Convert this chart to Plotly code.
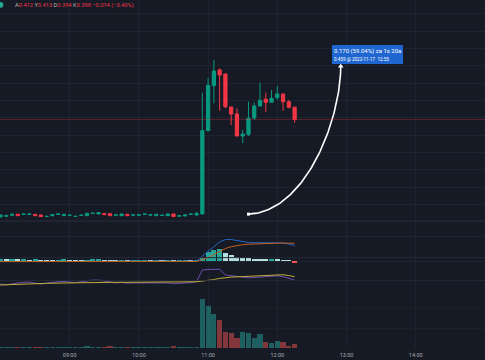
import numpy as np
import pandas as pd
import plotly.graph_objects as go
from plotly.subplots import make_subplots

# ---------------- data (5-minute bars, 2022-11-17) ----------------
bar_times = [t.strftime("%H:%M") for t in pd.date_range("2022-11-17 07:55", "2022-11-17 12:15", freq="5min")]

open_ = [0.2870, 0.2855, 0.2863, 0.2874, 0.2886, 0.2885, 0.2886, 0.2886, 0.2878, 0.2860,
         0.2870, 0.2887, 0.2870, 0.2874, 0.2861, 0.2873, 0.2870, 0.2897, 0.2890, 0.2894,
         0.2894, 0.2876, 0.2870, 0.2886, 0.2876, 0.2876, 0.2886, 0.2877, 0.2870, 0.2872,
         0.2870, 0.2890, 0.2864, 0.2867, 0.2886, 0.2878,
         0.2890, 0.3851, 0.4370, 0.4551, 0.4504, 0.4124, 0.4043, 0.3789, 0.3808, 0.3997,
         0.4135, 0.4213, 0.4178, 0.4231, 0.4274, 0.4185, 0.4120]
high = [0.2880, 0.2880, 0.2882, 0.2888, 0.2888, 0.2890, 0.2891, 0.2888, 0.2880, 0.2866,
        0.2884, 0.2891, 0.2888, 0.2878, 0.2865, 0.2878, 0.2899, 0.2901, 0.2907, 0.2896,
        0.2896, 0.2881, 0.2892, 0.2888, 0.2881, 0.2881, 0.2891, 0.2882, 0.2888, 0.2877,
        0.2892, 0.2892, 0.2872, 0.2890, 0.2891, 0.2913,
        0.4289, 0.4458, 0.4666, 0.4570, 0.4510, 0.4124, 0.4109, 0.3859, 0.4185, 0.4173,
        0.4404, 0.4289, 0.4320, 0.4366, 0.4274, 0.4205, 0.4130]
low = [0.2855, 0.2853, 0.2859, 0.2872, 0.2868, 0.2883, 0.2884, 0.2868, 0.2857, 0.2858,
       0.2868, 0.2885, 0.2868, 0.2872, 0.2859, 0.2871, 0.2868, 0.2895, 0.2888, 0.2880,
       0.2868, 0.2874, 0.2868, 0.2868, 0.2874, 0.2874, 0.2884, 0.2875, 0.2868, 0.2870,
       0.2868, 0.2857, 0.2862, 0.2865, 0.2884, 0.2876,
       0.2885, 0.3851, 0.4167, 0.4081, 0.4112, 0.3916, 0.3789, 0.3705, 0.3789, 0.3974,
       0.4135, 0.4066, 0.4178, 0.4205, 0.4081, 0.4109, 0.3940]
close = [0.2858, 0.2878, 0.2870, 0.2886, 0.2870, 0.2888, 0.2889, 0.2870, 0.2859, 0.2863,
         0.2882, 0.2889, 0.2886, 0.2876, 0.2863, 0.2876, 0.2897, 0.2899, 0.2905, 0.2882,
         0.2870, 0.2879, 0.2890, 0.2870, 0.2879, 0.2879, 0.2889, 0.2880, 0.2886, 0.2875,
         0.2890, 0.2859, 0.2870, 0.2878, 0.2889, 0.2897,
         0.3851, 0.4374, 0.4539, 0.4493, 0.4127, 0.4043, 0.3789, 0.3812, 0.3994, 0.4135,
         0.4201, 0.4178, 0.4224, 0.4274, 0.4185, 0.4120, 0.3980]
volume_k = [8, 10, 6, 8, 14, 7, 6, 9, 15, 6, 14, 7, 15, 6, 7, 8, 16, 13, 9, 12,
            16, 7, 9, 8, 15, 7, 9, 7, 12, 13, 8, 16, 14, 7, 6, 10,
            493, 423, 343, 276, 156, 153, 96, 160, 150, 96, 140, 60, 53, 66, 56, 23, 43]

# MACD (x1e-3 approx)
macd_line = [-0.6] * 35 + [-0.2,
             5, 10, 15, 19, 21.5, 21.5, 20.5, 19.3, 18.5, 18.3, 18.4, 18.3, 18.2, 18.2, 17.8, 17, 15.3]
signal_line = [-0.6] * 35 + [-0.5,
               1.5, 3.5, 6.5, 9.5, 12.5, 14.3, 15.5, 16.3, 16.8, 17.1, 17.3, 17.5, 17.7, 17.9, 18, 17.9, 17.7]
macd_hist = [1.2, 1.5, 1.3, 1.4, 1.2, 1.3, 1.0, 1.2, 0.8, 0.3, 0.2, 1.0, 1.2, 0.9, 0.3, 0.2,
             0.4, 1.2, 1.4, 1.0, 0.3, 0.2, 0.3, 0.2, 0.2, 0.2, 0.3, 0.2, 0.3, 0.2, 0.3, 0.2,
             0.2, 0.3, 0.2, 0.4,
             3.3, 8.7, 11.3, 12, 8.3, 6, 4.3, 3.3, 2.7, 2.3, 2, 1.7, 1.7, 1.3, 1, 0.7, -2]

rsi = [42, 44, 41, 45, 48, 50, 51, 47, 44, 47, 50, 52, 53, 51, 49, 52, 56, 58, 58, 54,
       50, 48, 50, 47, 48, 48, 49, 48, 49, 48, 48, 45, 46, 48, 49, 53,
       93.5, 95.5, 96, 96.5, 76, 73.5, 70.5, 67, 66, 67, 68, 70, 72, 73, 70, 64, 58]
rsi_ma = [40, 41, 42, 43, 44, 44.5, 45, 45.5, 46, 46.5, 47, 47.5, 48, 48.5, 49, 49, 49.5, 50,
          50, 50, 50, 50, 50, 50, 50, 50, 50, 50, 50, 50, 50, 50, 50, 50.5, 51, 52,
          54.5, 56, 60, 64, 67, 68.5, 69.5, 70.5, 71, 72, 73.5, 75.5, 77, 78, 77, 74, 70]
rsi_levels = [70, 50, 30]

tick_labels = ["08:00", "09:00", "10:00", "11:00", "12:00", "13:00", "14:00", "15:00"]

# price-range measurement drawing
measure_times = ["11:35", "12:55"]
measure_prices = [0.2888, 0.4593]
measure_text = ["0.170 (59.04%) za 1s 20a", "0.459 @ 2022-11-17\u00a0 12:55"]

header_letters = ["A", "Y", "D", "K"]

# ---------------- helpers ----------------
def to_min(s):
    return int(s[:2]) * 60 + int(s[3:])

x = [to_min(t) for t in bar_times]
tickvals = [to_min(t) for t in tick_labels]

BG = "#161a25"
GRID = "#1f2330"
UP = "#089981"
DN = "#f23645"
TXT = "#a9acb5"

fig = make_subplots(rows=4, cols=1, shared_xaxes=True, vertical_spacing=0,
                    row_heights=[228, 38, 24, 58])

# candles
fig.add_trace(go.Candlestick(
    x=x, open=open_, high=high, low=low, close=close,
    increasing=dict(line=dict(color=UP, width=1), fillcolor=UP),
    decreasing=dict(line=dict(color=DN, width=1), fillcolor=DN),
    whiskerwidth=0, hoverinfo="skip", showlegend=False), row=1, col=1)

# measurement curve (cubic bezier between start and end point)
t0, t1 = to_min(measure_times[0]), to_min(measure_times[1])
p0, p1 = measure_prices
dt, dp = t1 - t0, p1 - p0
P = np.array([[t0, p0], [t0 + 0.62 * dt, p0 + 0.014 * dp], [t0 + dt, p0 + 0.64 * dp], [t1, p1]])
s = np.linspace(0, 1, 80)[:, None]
curve = ((1 - s) ** 3) * P[0] + 3 * ((1 - s) ** 2) * s * P[1] + 3 * (1 - s) * s ** 2 * P[2] + s ** 3 * P[3]
fig.add_trace(go.Scatter(x=curve[:, 0], y=curve[:, 1], mode="lines",
                         line=dict(color="#ffffff", width=1.6), hoverinfo="skip",
                         showlegend=False), row=1, col=1)
fig.add_trace(go.Scatter(x=[t0], y=[p0], mode="markers",
                         marker=dict(symbol="square", size=3, color="#ffffff"),
                         hoverinfo="skip", showlegend=False), row=1, col=1)
fig.add_trace(go.Scatter(x=[t1], y=[p1], mode="markers",
                         marker=dict(symbol="triangle-up", size=5, color="#ffffff"),
                         hoverinfo="skip", showlegend=False), row=1, col=1)

# MACD
hist_cols = []
for i, v in enumerate(macd_hist):
    prev = macd_hist[i - 1] if i > 0 else v
    if v >= 0:
        hist_cols.append("#26a69a" if v >= prev else "#b2dfdb")
    else:
        hist_cols.append("#ffcdd2" if v >= prev else "#ff5252")
fig.add_trace(go.Bar(x=x, y=macd_hist, marker=dict(color=hist_cols, line=dict(width=0)),
                     width=4.4, hoverinfo="skip", showlegend=False), row=2, col=1)
fig.add_trace(go.Scatter(x=x, y=macd_line, mode="lines", line=dict(color="#2563c4", width=1),
                         hoverinfo="skip", showlegend=False), row=2, col=1)
fig.add_trace(go.Scatter(x=x, y=signal_line, mode="lines", line=dict(color="#c2621c", width=1),
                         hoverinfo="skip", showlegend=False), row=2, col=1)

# RSI
fig.add_hrect(y0=rsi_levels[2], y1=rsi_levels[0], row=3, col=1,
              fillcolor="rgba(126,87,194,0.24)", line_width=0, layer="below")
for lv, d in zip(rsi_levels, ["dash", "dot", "dash"]):
    fig.add_hline(y=lv, row=3, col=1, line=dict(color="rgba(120,123,134,0.6)", width=1, dash=d))
fig.add_trace(go.Scatter(x=x, y=rsi, mode="lines", line=dict(color="#6f4fb5", width=1),
                         hoverinfo="skip", showlegend=False), row=3, col=1)
fig.add_trace(go.Scatter(x=x, y=rsi_ma, mode="lines", line=dict(color="#bfae3a", width=1),
                         hoverinfo="skip", showlegend=False), row=3, col=1)

# Volume
vol_cols = ["rgba(38,166,154,0.5)" if c >= o else "rgba(239,83,80,0.5)" for o, c in zip(open_, close)]
fig.add_trace(go.Bar(x=x, y=volume_k, marker=dict(color=vol_cols, line=dict(width=0)),
                     width=4.5, hoverinfo="skip", showlegend=False), row=4, col=1)

# last price line
fig.add_hline(y=close[-1], row=1, col=1, line=dict(color="rgba(242,54,69,0.30)", width=1))

# ---------------- layout ----------------
xr = [479.57, 900.08]
fig.update_xaxes(range=xr, tickvals=tickvals, ticktext=tick_labels, showgrid=True,
                 gridcolor=GRID, gridwidth=1, zeroline=False, showline=False, ticks="",
                 showticklabels=False, fixedrange=True)
fig.update_xaxes(showticklabels=True, tickfont=dict(size=5.5, color=TXT, family="Roboto"),
                 ticklabelstandoff=2, row=4, col=1)
fig.update_yaxes(showticklabels=False, zeroline=False, showline=False, ticks="",
                 gridcolor=GRID, gridwidth=1, fixedrange=True)
fig.update_yaxes(range=[0.2728, 0.5358], tick0=0, dtick=0.02, row=1, col=1)
fig.update_yaxes(range=[-5, 33], tickvals=[0, 24.3], row=2, col=1)
fig.update_yaxes(range=[22.9, 107.9], showgrid=False, row=3, col=1)
fig.update_yaxes(range=[0, 580], tickvals=[200, 400], gridcolor="#1c202b", row=4, col=1)

# pane separators
for yy in [228.5, 266.5, 290.0]:
    fig.add_shape(type="line", xref="paper", yref="paper", x0=0, x1=1,
                  y0=1 - yy / 360, y1=1 - yy / 360, line=dict(color="#262a36", width=1))

# header
o, h, l, c = open_[-1], high[-1], low[-1], close[-1]
chg = c - close[-2]
pct = chg / close[-2] * 100
lab = "<span style='color:#b2b5be'>%s</span>"
vals = [o, h, l, c]
hdr = " ".join(lab % L + f"{v:.3f}" for L, v in zip(header_letters, vals))
hdr += f" \u2212{abs(chg):.3f} (\u2212{abs(pct):.2f}%)"
fig.add_annotation(xref="paper", yref="paper", x=12.5 / 485, y=1 - 5.2 / 360,
                   xanchor="left", yanchor="middle", text=hdr, showarrow=False,
                   font=dict(size=5.7, color=DN, family="Roboto"))
fig.add_shape(type="circle", xref="paper", yref="paper",
              x0=-2.6 / 485, x1=3.4 / 485, y0=1 - 8 / 360, y1=1 - 2 / 360,
              fillcolor="#22ab94", line=dict(width=0))

# measurement label
fig.add_annotation(x=t1, y=p1, xref="x", yref="y", xanchor="left", yanchor="bottom",
                   xshift=-8.5, yshift=2.5, showarrow=False, align="left",
                   bgcolor="#1f66d1", borderpad=2, borderwidth=0,
                   text=f"<span style='font-size:6px'>{measure_text[0]}</span><br>"
                        f"<span style='font-size:4.6px'>{measure_text[1]}</span>",
                   font=dict(color="#ffffff", size=6, family="Roboto"))

fig.update_layout(width=485, height=360, autosize=False,
                  margin=dict(l=0, r=0, t=0, b=12, pad=0),
                  paper_bgcolor=BG, plot_bgcolor=BG, boxgap=0.2, boxgroupgap=0.3,
                  showlegend=False, bargap=0, hovermode=False)
fig.update_layout(xaxis_rangeslider_visible=False)

fig.write_html("out.html", config={"displayModeBar": False})
